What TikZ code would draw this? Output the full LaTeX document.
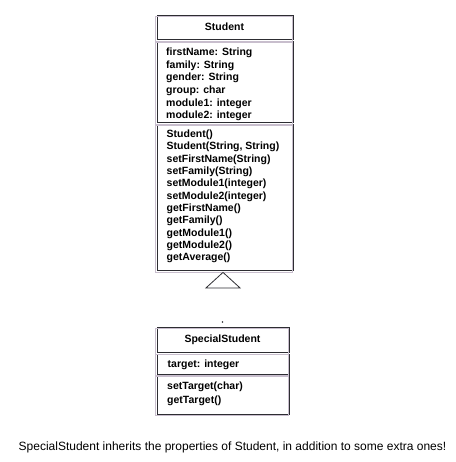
\documentclass[tikz,border=0pt]{standalone}
\usepackage{fontspec}
\setmainfont{Liberation Sans}
\definecolor{umldark}{RGB}{45,45,50}
\definecolor{umllight}{RGB}{200,190,205}
\tikzset{
  comp/.style={draw=umldark, line width=0.9pt, inner sep=0pt, anchor=north west, rectangle},
  shade line/.style={draw=umllight, line width=0.9pt},
  member/.style={anchor=base west, inner sep=0pt, font=\fontsize{10.5}{12}\selectfont\bfseries, text=black},
  title/.style={anchor=base, inner sep=0pt, font=\fontsize{10.5}{12}\selectfont\bfseries, text=black},
  caption/.style={anchor=base, inner sep=0pt, font=\fontsize{12}{14}\selectfont, text=black},
  gen/.style={draw=umldark, line width=0.8pt, fill=white}
}
\begin{document}
\begin{tikzpicture}[x=1pt,y=-1pt]
\useasboundingbox (0,0) rectangle (455,462);
% Student class
\node[comp, minimum width=136pt, minimum height=24.5pt] (st1) at (156.5,15) {};
\node[comp, minimum width=136pt, minimum height=81.5pt] (st2) at (156.5,41) {};
\node[comp, minimum width=136pt, minimum height=146pt] (st3) at (156.5,124) {};
% SpecialStudent class
\node[comp, minimum width=132pt, minimum height=25pt] (sp1) at (156.5,327) {};
\node[comp, minimum width=132pt, minimum height=20pt] (sp2) at (156.5,353.5) {};
\node[comp, minimum width=132pt, minimum height=38.5pt] (sp3) at (156.5,375) {};
\foreach \n in {st1,st2,st3,sp1,sp2,sp3}
  \draw[shade line] ([shift={(-1.4,1.4)}]\n.north west) rectangle ([shift={(-1.4,1.4)}]\n.south east);
% titles
\node[title] (stt) at (224.5,30.7) {Student};
\node[title] (spt) at (222.5,342.7) {SpecialStudent};
% Student attributes
\foreach \t [count=\i from 0] in {firstName: String, family: String, gender: String, group: char, module1: integer, module2: integer}
  \node[member] (sa\i) at (166,55.7+12.6*\i) {\t};
% Student methods
\foreach \t [count=\i from 0] in {Student(), {Student(String, String)}, setFirstName(String), setFamily(String), setModule1(integer), setModule2(integer), getFirstName(), getFamily(), getModule1(), getModule2(), getAverage()}
  \node[member] (sm\i) at (166.5,137.7+12.3*\i) {\t};
% SpecialStudent members
\node[member] (pa0) at (167.5,367.7) {target: integer};
\node[member] (pm0) at (167,389.7) {setTarget(char)};
\node[member] (pm1) at (167,403.7) {getTarget()};
% generalization arrowhead
\coordinate (tip) at ([yshift=-1.5pt]st3.south -| 223,0);
\draw[gen] (tip) -- ++(-17,15.5) -- ++(34,0) -- cycle;
\coordinate (dot) at ([yshift=5pt]sp1.north -| 222.5,0);
\fill[umldark] (dot) circle (0.8pt);
% caption
\node[caption] (cap) at (232.5,450) {SpecialStudent inherits the properties of Student, in addition to some extra ones!};
\end{tikzpicture}
\end{document}
